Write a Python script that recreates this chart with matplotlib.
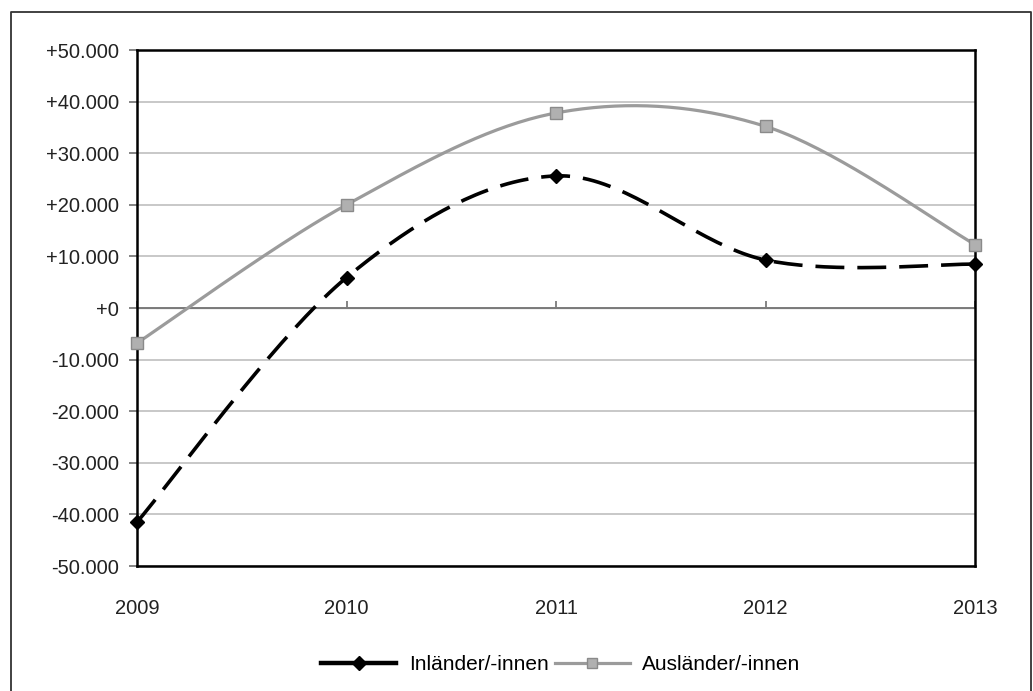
import matplotlib
matplotlib.use("Agg")
import matplotlib.pyplot as plt
import numpy as np
from matplotlib.lines import Line2D
from matplotlib.ticker import FuncFormatter

plt.rcParams["font.family"] = ["Liberation Sans", "DejaVu Sans"]

YEARS = [2009, 2010, 2011, 2012, 2013]
INLAENDER = [-41500, 5900, 25600, 9300, 8500]
AUSLAENDER = [-6800, 20000, 37800, 35200, 12300]
SERIES_NAMES = ["Inländer/-innen", "Ausländer/-innen"]
Y_TICKS = list(range(-50000, 50001, 10000))


def smooth(xs, ys, n=40):
  # cubic bezier through the points, control points from neighbours (1/6 tension)
  p = np.column_stack([xs, ys]).astype(float)
  ext = np.vstack([p[0], p, p[-1]])
  out = []
  t = np.linspace(0, 1, n)[:, None]
  for i in range(len(p) - 1):
    p0, p3 = ext[i + 1], ext[i + 2]
    c1 = p0 + (ext[i + 2] - ext[i]) / 6
    c2 = p3 - (ext[i + 3] - ext[i + 1]) / 6
    seg = ((1 - t) ** 3) * p0 + 3 * ((1 - t) ** 2) * t * c1 + 3 * (1 - t) * t ** 2 * c2 + t ** 3 * p3
    out.append(seg if i == 0 else seg[1:])
  out = np.vstack(out)
  return out[:, 0], out[:, 1]


def fmt(v, _pos=None):
  s = f"{abs(int(round(v))):,}".replace(",", ".")
  return ("-" if v < 0 else "+") + s


fig = plt.figure(figsize=(10.33, 6.91), dpi=100)
W, H = 1033, 691
ax = fig.add_axes([137 / W, 1 - 566 / H, (975 - 137) / W, (566 - 50) / H])

# outer chart frame (open at the bottom)
fig.add_artist(Line2D([11 / W, 11 / W, 1031 / W, 1031 / W], [0, 1 - 12 / H, 1 - 12 / H, 0],
                      transform=fig.transFigure, color="#333333", lw=1.3))

gray = "#9b9b9b"
x, y = smooth(YEARS, AUSLAENDER)
ax.plot(x, y, color=gray, lw=2.3, zorder=3, solid_capstyle="butt")
ax.plot(YEARS, AUSLAENDER, ls="none", marker="s", ms=8, mfc="#b0b0b0", mec="#8a8a8a",
        mew=1.0, zorder=4, clip_on=False)

x, y = smooth(YEARS, INLAENDER)
ax.plot(x, y, color="black", lw=2.6, dashes=(8, 3.6), zorder=5, dash_capstyle="butt")
ax.plot(YEARS, INLAENDER, ls="none", marker="D", ms=7, color="black", zorder=6, clip_on=False)

ax.set_xlim(YEARS[0], YEARS[-1])
ax.set_ylim(Y_TICKS[0], Y_TICKS[-1])
ax.set_yticks(Y_TICKS)
ax.yaxis.set_major_formatter(FuncFormatter(fmt))
ax.grid(axis="y", color="#c4c4c4", lw=1.3, zorder=1)
ax.set_axisbelow(True)
ax.axhline(0, color="#707070", lw=1.2, zorder=2)

ax.set_xticks(YEARS)
ax.set_xticklabels([str(v) for v in YEARS])
ax.tick_params(axis="x", length=0, pad=24, labelsize=14.5, colors="#222222")
ax.tick_params(axis="y", length=6, width=1.2, color="#707070", pad=7, labelsize=14.5,
               labelcolor="#222222")
for s in ax.spines.values():
  s.set_color("black")
  s.set_linewidth(1.8)

# category ticks on the zero line
sec = ax.secondary_xaxis(0.5)
sec.set_xticks(YEARS)
sec.set_xticklabels([""] * len(YEARS))
sec.tick_params(axis="x", direction="out", length=5, width=1.2, color="#707070")
sec.spines["bottom"].set_visible(False)

handles = [
    Line2D([], [], color="black", lw=3.2, marker="D", ms=7),
    Line2D([], [], color=gray, lw=2.3, marker="s", ms=7.5, mfc="#b0b0b0", mec="#8a8a8a"),
]
fig.legend(handles, SERIES_NAMES, loc="center", bbox_to_anchor=(561 / W, 1 - 665 / H), ncol=2,
           frameon=False, fontsize=15, handlelength=3.6, columnspacing=0.3, handletextpad=0.6)

fig.savefig("out.png", dpi=100)
